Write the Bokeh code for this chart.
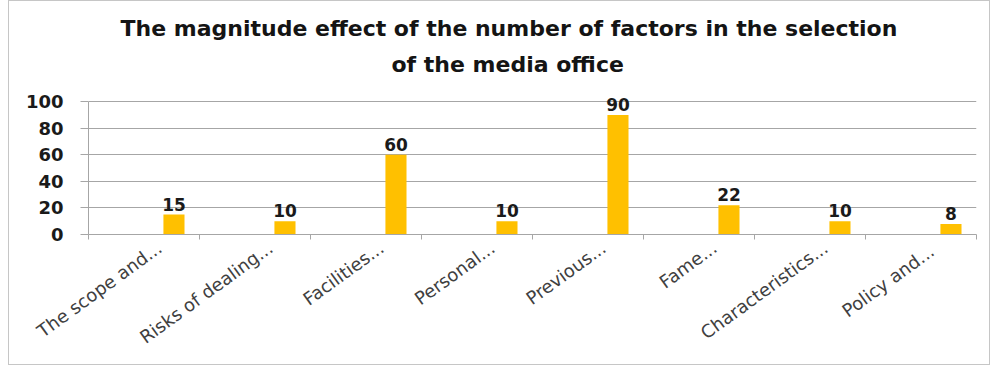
import math
from bokeh.plotting import figure
from bokeh.models import (Range1d, LinearAxis, FixedTicker, ColumnDataSource, LabelSet, Title)
from bokeh.core.properties import value
from bokeh.transform import dodge
from bokeh.embed import file_html
from bokeh.resources import INLINE

categories = ["The scope and...", "Risks of dealing...", "Facilities...", "Personal...",
              "Previous...", "Fame...", "Characteristics...", "Policy  and..."]
values = [15, 10, 60, 10, 90, 22, 10, 8]
y_ticks = [0, 20, 40, 60, 80, 100]
title_line1 = "The magnitude effect of the number of factors in the selection"
title_line2 = "of the media office"

FONT = "DejaVu Sans"
n = len(categories)
centers = [i + 0.5 for i in range(n)]
boundaries = list(range(n + 1))

src = ColumnDataSource(dict(x=centers, val=values, lbl=[str(v) for v in values]))

p = figure(width=982, height=365, x_range=Range1d(0, n), y_range=Range1d(0, 110),
           output_backend="svg", toolbar_location=None, x_axis_location=None,
           min_border_left=79, min_border_right=15, min_border_top=87, min_border_bottom=132,
           title=title_line1)
p.styles = {"border": "1px solid #c6c6c6", "margin-left": "8px"}
p.outline_line_color = None
p.background_fill_color = "white"
p.border_fill_color = "white"

p.title.align = "left"
p.title.offset = 32
p.title.text_font = FONT
p.title.text_font_size = "22px"
p.title.text_font_style = "bold"
p.title.text_color = "#141414"
p.title.standoff = -5
t2 = Title(text=title_line2, align="left", offset=303, text_font=FONT, text_font_size="22px",
           text_font_style="bold", text_color="#141414", standoff=23)
p.add_layout(t2, "above")

# bars
p.vbar(x=dodge("x", 0.27), top="val", width=0.19, source=src,
       fill_color="#FFC000", line_color=None)

labels = LabelSet(x=dodge("x", 0.27), y="val", text="lbl", source=src,
                  text_align="center", text_baseline="bottom", y_offset=4,
                  text_font=value(FONT), text_font_size="17px", text_font_style="bold",
                  text_color="#1a1a1a")
p.add_layout(labels)

# y axis
ya = p.yaxis[0]
ya.ticker = FixedTicker(ticks=y_ticks)
ya.bounds = (0, 100)
ya.axis_line_color = "#a6a6a6"
ya.major_tick_line_color = "#a6a6a6"
ya.major_tick_out = 8
ya.major_tick_in = 0
ya.minor_tick_line_color = None
ya.major_label_text_font = FONT
ya.major_label_text_font_size = "18px"
ya.major_label_text_font_style = "bold"
ya.major_label_text_color = "#1a1a1a"
ya.major_label_standoff = 17
p.ygrid.ticker = FixedTicker(ticks=y_ticks)
p.ygrid.grid_line_color = "#a6a6a6"
p.xgrid.visible = False

# x axis: labels near category centres, tick marks (minor) at category boundaries
label_pos = [c + 0.14 for c in centers]
xa = LinearAxis(ticker=FixedTicker(ticks=label_pos, minor_ticks=boundaries),
                major_label_overrides={pos: name for pos, name in zip(label_pos, categories)},
                axis_line_color="#a6a6a6", major_tick_line_color=None,
                minor_tick_line_color="#a6a6a6", minor_tick_out=5, minor_tick_in=0,
                major_label_orientation=math.radians(36),
                major_label_text_font=FONT, major_label_text_font_size="18px",
                major_label_text_color="#404040", major_label_standoff=5)
p.add_layout(xa, "below")

open("out.html", "w").write(file_html(p, INLINE))
